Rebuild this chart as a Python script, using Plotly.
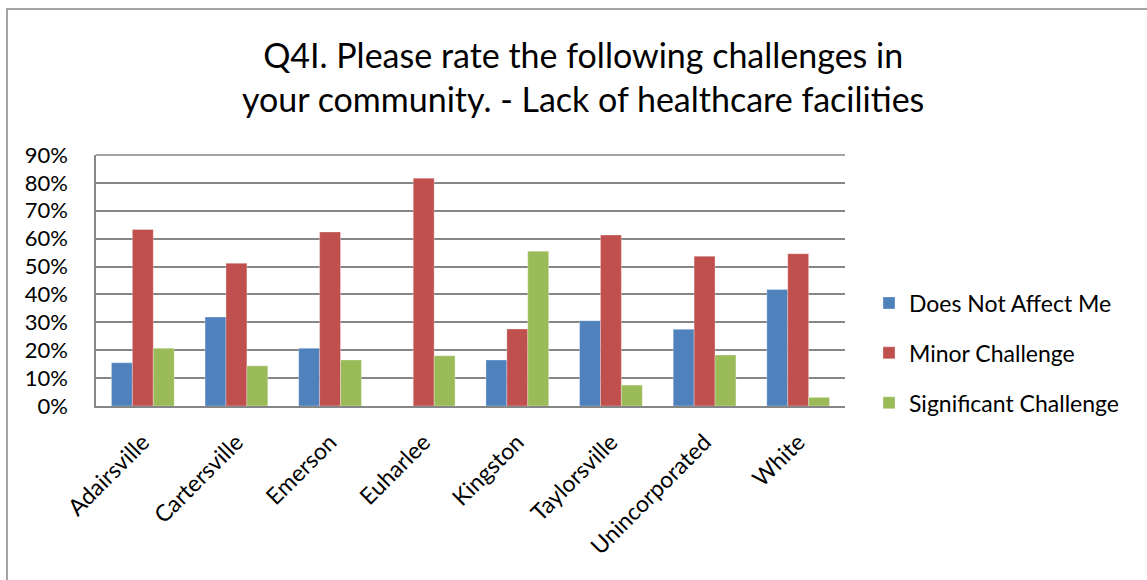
import plotly.graph_objects as go

categories = ["Adairsville", "Cartersville", "Emerson", "Euharlee", "Kingston",
              "Taylorsville", "Unincorporated", "White"]
does_not_affect = [0.155, 0.319, 0.207, None, 0.165, 0.306, 0.275, 0.418]
minor_challenge = [0.633, 0.512, 0.624, 0.817, 0.276, 0.613, 0.537, 0.546]
significant_challenge = [0.207, 0.144, 0.165, 0.180, 0.555, 0.075, 0.183, 0.031]
series_names = ["Does Not Affect Me", "Minor Challenge", "Significant Challenge"]
colors = ["#4F81BD", "#C0504D", "#9BBB59"]
y_ticks = [i / 10 for i in range(10)]

FONT = "Lato"
fig = go.Figure()
for i, (name, vals) in enumerate(zip(series_names,
                                     [does_not_affect, minor_challenge, significant_challenge])):
    fig.add_trace(go.Bar(
        x=categories, y=vals, name=name, legendgroup=name,
        marker=dict(color=colors[i], line=dict(color="rgba(255,255,255,0.6)", width=0.5)),
    ))

W, H = 1147, 580
L, R, T, B = 96, 845, 155, 406
pw, ph = R - L, B - T

def px(x):
    return (x - L) / pw

def py(y):
    return (B - y) / ph

fig.update_layout(
    width=W, height=H,
    margin=dict(l=L, r=W - R, t=T, b=H - B, pad=0),
    paper_bgcolor="white", plot_bgcolor="white",
    barmode="group", bargap=0.33, bargroupgap=0,
    font=dict(family=FONT, color="black"),
    showlegend=True,
    legend=dict(x=px(869), y=py(353), xanchor="left", yanchor="middle",
                font=dict(size=23, family=FONT), tracegroupgap=17,
                traceorder="grouped", itemwidth=30),
    xaxis=dict(showgrid=False, showline=True, linecolor="#868686", linewidth=1.5,
               tickangle=-45, tickfont=dict(size=23, family=FONT),
               ticks="", ticklabelstandoff=12, fixedrange=True),
    yaxis=dict(range=[0, 0.9], tickvals=y_ticks, tickformat=".0%",
               showgrid=True, gridcolor="#868686", gridwidth=1.5,
               showline=True, linecolor="#868686", linewidth=1.5,
               tickfont=dict(size=22, family=FONT), ticks="",
               ticklabelstandoff=22, zeroline=False, fixedrange=True),
    shapes=[
        dict(type="rect", xref="paper", yref="paper",
             x0=px(7), x1=px(1160), y0=py(600), y1=py(9),
             line=dict(color="#868686", width=1.5), fillcolor="rgba(0,0,0,0)", layer="below"),
        dict(type="line", xref="paper", yref="paper", x0=0, x1=1, y0=1, y1=1,
             line=dict(color="#868686", width=1.5)),
    ],
    annotations=[
        dict(text="Q4I. Please rate the following challenges in<br>your community. - Lack of healthcare facilities",
             xref="paper", yref="paper", x=px(583), y=py(76), xanchor="center", yanchor="middle",
             showarrow=False, font=dict(size=34, family=FONT, color="black"), align="center"),
    ],
)

fig.write_html("out.html", config={"displayModeBar": False},
               post_script="document.body.style.margin='0';document.body.style.overflow='hidden';")
